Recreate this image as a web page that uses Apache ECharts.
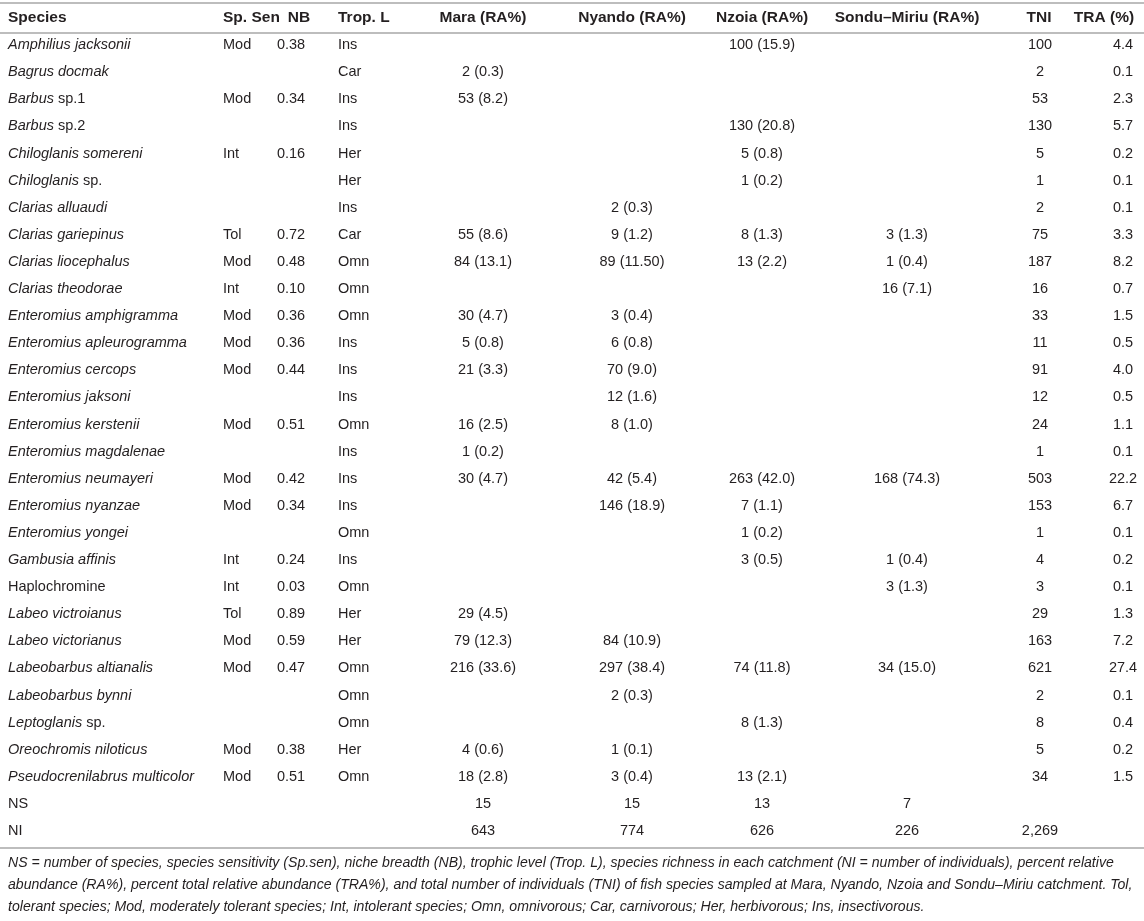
<html>
<head>
    <meta http-equiv="Content-Type" content="text/html; charset=utf-8" />
    <script type="text/javascript" src="https://cdn.jsdelivr.net/npm/echarts@6/dist/echarts.min.js"></script>
</head>
<body style="margin:0;background:#fff">
<div id="main" style="width:1144px;height:921px"></div>
<script type="text/javascript">
    // table content
    var headers = ['Species', 'Sp. Sen', 'NB', 'Trop. L', 'Mara (RA%)', 'Nyando (RA%)', 'Nzoia (RA%)', 'Sondu\u2013Miriu (RA%)', 'TNI', 'TRA (%)'];
    var genus = ['Amphilius', 'Bagrus', 'Barbus', 'Barbus', 'Chiloglanis', 'Chiloglanis', 'Clarias', 'Clarias', 'Clarias', 'Clarias',
        'Enteromius', 'Enteromius', 'Enteromius', 'Enteromius', 'Enteromius', 'Enteromius', 'Enteromius', 'Enteromius', 'Enteromius',
        'Gambusia', 'Haplochromine', 'Labeo', 'Labeo', 'Labeobarbus', 'Labeobarbus', 'Leptoglanis', 'Oreochromis', 'Pseudocrenilabrus'];
    var epithet = ['jacksonii', 'docmak', 'sp.1', 'sp.2', 'somereni', 'sp.', 'alluaudi', 'gariepinus', 'liocephalus', 'theodorae',
        'amphigramma', 'apleurogramma', 'cercops', 'jaksoni', 'kerstenii', 'magdalenae', 'neumayeri', 'nyanzae', 'yongei',
        'affinis', '', 'victroianus', 'victorianus', 'altianalis', 'bynni', 'sp.', 'niloticus', 'multicolor'];
    var spSen = ['Mod', '', 'Mod', '', 'Int', '', '', 'Tol', 'Mod', 'Int', 'Mod', 'Mod', 'Mod', '', 'Mod', '', 'Mod', 'Mod', '',
        'Int', 'Int', 'Tol', 'Mod', 'Mod', '', '', 'Mod', 'Mod'];
    var nb = ['0.38', '', '0.34', '', '0.16', '', '', '0.72', '0.48', '0.10', '0.36', '0.36', '0.44', '', '0.51', '', '0.42', '0.34', '',
        '0.24', '0.03', '0.89', '0.59', '0.47', '', '', '0.38', '0.51'];
    var tropL = ['Ins', 'Car', 'Ins', 'Ins', 'Her', 'Her', 'Ins', 'Car', 'Omn', 'Omn', 'Omn', 'Ins', 'Ins', 'Ins', 'Omn', 'Ins', 'Ins', 'Ins', 'Omn',
        'Ins', 'Omn', 'Her', 'Her', 'Omn', 'Omn', 'Omn', 'Her', 'Omn'];
    var mara = [null, 2, 53, null, null, null, null, 55, 84, null, 30, 5, 21, null, 16, 1, 30, null, null, null, null, 29, 79, 216, null, null, 4, 18];
    var maraRA = ['', '0.3', '8.2', '', '', '', '', '8.6', '13.1', '', '4.7', '0.8', '3.3', '', '2.5', '0.2', '4.7', '', '', '', '', '4.5', '12.3', '33.6', '', '', '0.6', '2.8'];
    var nyando = [null, null, null, null, null, null, 2, 9, 89, null, 3, 6, 70, 12, 8, null, 42, 146, null, null, null, null, 84, 297, 2, null, 1, 3];
    var nyandoRA = ['', '', '', '', '', '', '0.3', '1.2', '11.50', '', '0.4', '0.8', '9.0', '1.6', '1.0', '', '5.4', '18.9', '', '', '', '', '10.9', '38.4', '0.3', '', '0.1', '0.4'];
    var nzoia = [100, null, null, 130, 5, 1, null, 8, 13, null, null, null, null, null, null, null, 263, 7, 1, 3, null, null, null, 74, null, 8, null, 13];
    var nzoiaRA = ['15.9', '', '', '20.8', '0.8', '0.2', '', '1.3', '2.2', '', '', '', '', '', '', '', '42.0', '1.1', '0.2', '0.5', '', '', '', '11.8', '', '1.3', '', '2.1'];
    var sondu = [null, null, null, null, null, null, null, 3, 1, 16, null, null, null, null, null, null, 168, null, null, 1, 3, null, null, 34, null, null, null, null];
    var sonduRA = ['', '', '', '', '', '', '', '1.3', '0.4', '7.1', '', '', '', '', '', '', '74.3', '', '', '0.4', '1.3', '', '', '15.0', '', '', '', ''];
    var tni = [100, 2, 53, 130, 5, 1, 2, 75, 187, 16, 33, 11, 91, 12, 24, 1, 503, 153, 1, 4, 3, 29, 163, 621, 2, 8, 5, 34];
    var tra = ['4.4', '0.1', '2.3', '5.7', '0.2', '0.1', '0.1', '3.3', '8.2', '0.7', '1.5', '0.5', '4.0', '0.5', '1.1', '0.1', '22.2', '6.7', '0.1',
        '0.2', '0.1', '1.3', '7.2', '27.4', '0.1', '0.4', '0.2', '1.5'];
    // NS and NI summary rows (Mara, Nyando, Nzoia, Sondu-Miriu, TNI)
    var nsRow = [15, 15, 13, 7, null];
    var niRow = [643, 774, 626, 226, 2269];
    var footnote = [
        'NS = number of species, species sensitivity (Sp.sen), niche breadth (NB), trophic level (Trop. L), species richness in each catchment (NI = number of individuals), percent relative',
        'abundance (RA%), percent total relative abundance (TRA%), and total number of individuals (TNI) of fish species sampled at Mara, Nyando, Nzoia and Sondu\u2013Miriu catchment. Tol,',
        'tolerant species; Mod, moderately tolerant species; Int, intolerant species; Omn, omnivorous; Car, carnivorous; Her, herbivorous; Ins, insectivorous.'
    ];

    // column anchors (px): header and body, plus alignment
    var headX = [8, 223, 299, 338, 483, 632, 762, 907, 1039, 1104];
    var colX = [8, 223, 291, 338, 483, 632, 762, 907, 1040, 1123];
    var colAlign = ['left', 'left', 'center', 'left', 'center', 'center', 'center', 'center', 'center', 'center'];
    var ink = '#231f20';
    var font = '"Liberation Sans", Arial, Helvetica, sans-serif';

    function cellRA(n, ra) {
        return n == null ? '' : n + ' (' + ra + ')';
    }
    function fmt(n) {
        return n == null ? '' : n.toLocaleString('en-US');
    }

    // build row categories and cells
    var rows = ['header'];
    var cells = [];
    headers.forEach(function (h, c) {
        cells.push({value: [headX[c], 0], text: h, bold: true, align: colAlign[c]});
    });
    for (var i = 0; i < genus.length; i++) {
        var r = i + 1;
        rows.push(genus[i] + ' ' + epithet[i]);
        var sp;
        if (genus[i] === 'Haplochromine') {
            sp = '{n|' + genus[i] + '}';
        } else if (epithet[i].indexOf('sp.') === 0) {
            sp = '{i|' + genus[i] + '}{n| ' + epithet[i] + '}';
        } else {
            sp = '{i|' + genus[i] + ' ' + epithet[i] + '}';
        }
        var vals = [sp, spSen[i], nb[i], tropL[i], cellRA(mara[i], maraRA[i]), cellRA(nyando[i], nyandoRA[i]),
            cellRA(nzoia[i], nzoiaRA[i]), cellRA(sondu[i], sonduRA[i]), fmt(tni[i]), tra[i]];
        vals.forEach(function (v, c) {
            if (v !== '') cells.push({value: [colX[c], r], text: v, rich: c === 0, align: colAlign[c]});
        });
    }
    [['NS', nsRow], ['NI', niRow]].forEach(function (s) {
        rows.push(s[0]);
        var r = rows.length - 1;
        cells.push({value: [colX[0], r], text: s[0], align: 'left'});
        s[1].forEach(function (v, k) {
            if (v != null) cells.push({value: [colX[4 + k], r], text: fmt(v), align: colAlign[4 + k]});
        });
    });

    var pitch = 27.1;
    var headerY = 18;
    var bodySize = 14.5;

    var myChart = echarts.init(document.getElementById('main'));
    var option = {
        backgroundColor: '#fff',
        animation: false,
        title: {
            text: footnote.join('\n'),
            left: 8,
            top: 852,
            padding: 0,
            textStyle: {fontFamily: font, fontStyle: 'italic', fontWeight: 'normal', fontSize: 14.1, lineHeight: 22, color: ink}
        },
        grid: {left: 0, right: 0, top: headerY - pitch / 2, height: pitch * rows.length},
        xAxis: {type: 'value', min: 0, max: 1144, show: false},
        yAxis: {type: 'category', data: rows, inverse: true, show: false},
        graphic: [
            {type: 'line', shape: {x1: 0, y1: 3, x2: 1144, y2: 3}, style: {stroke: '#bdbdbd', lineWidth: 2}},
            {type: 'line', shape: {x1: 0, y1: 33, x2: 1144, y2: 33}, style: {stroke: '#bdbdbd', lineWidth: 2}},
            {type: 'line', shape: {x1: 0, y1: 848, x2: 1144, y2: 848}, style: {stroke: '#bdbdbd', lineWidth: 2}}
        ],
        series: [{
            type: 'custom',
            data: cells,
            renderItem: function (params, api) {
                var d = cells[params.dataIndex];
                var p = api.coord([api.value(0), api.value(1)]);
                return {
                    type: 'text',
                    x: p[0],
                    y: p[1],
                    style: {
                        text: d.text,
                        align: d.align,
                        verticalAlign: 'middle',
                        fontFamily: font,
                        fontSize: d.bold ? 15.5 : bodySize,
                        fontWeight: d.bold ? 'bold' : 'normal',
                        fill: ink,
                        rich: d.rich ? {
                            i: {fontStyle: 'italic', fontFamily: font, fontSize: bodySize, fill: ink},
                            n: {fontFamily: font, fontSize: bodySize, fill: ink}
                        } : undefined
                    }
                };
            }
        }]
    };
    myChart.setOption(option);
</script>
</body>
</html>
